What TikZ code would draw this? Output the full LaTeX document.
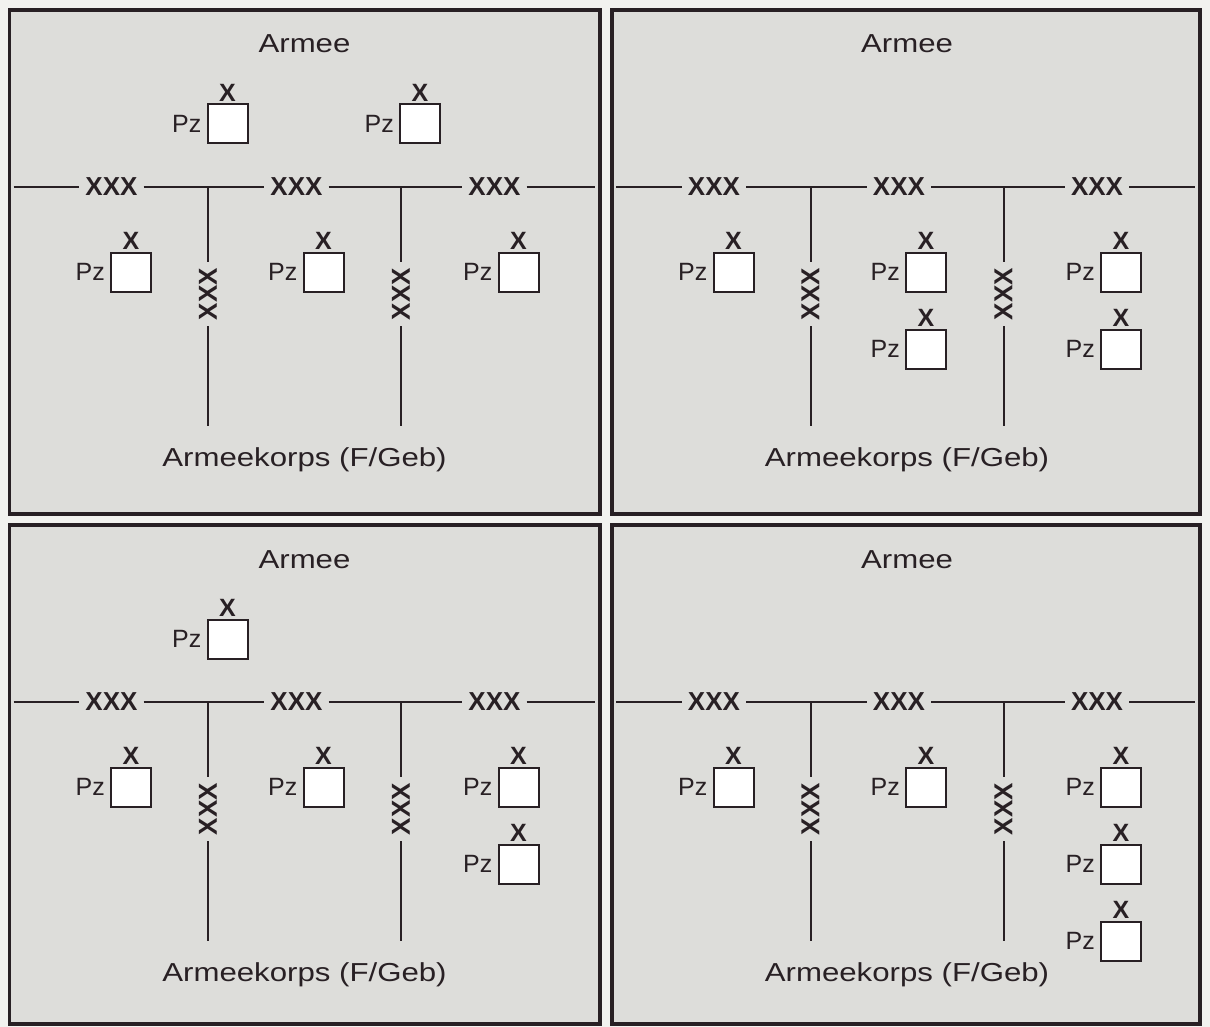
\documentclass[tikz,border=0pt]{standalone}
\usepackage{fontspec}
\setmainfont{Liberation Sans}
\newfontfamily\titlefont[FakeStretch=1.2]{Liberation Sans}
\definecolor{ink}{RGB}{40,32,36}
\definecolor{panelbg}{RGB}{221,221,218}
\definecolor{pagebg}{RGB}{242,242,239}
\tikzset{
  frame/.style={draw=ink, line width=3.8pt, fill=panelbg},
  conn/.style={draw=ink, line width=2pt},
  corps/.style={font=\fontsize{26}{30}\selectfont\bfseries, text=ink, inner sep=6pt},
  vcorps/.style={corps, rotate=90},
  pzbox/.style={draw=ink, fill=white, line width=2pt, minimum width=40pt, minimum height=39pt, inner sep=0pt},
  brig/.style={font=\fontsize{25}{28}\selectfont\bfseries, text=ink, inner sep=0pt},
  pzlbl/.style={font=\fontsize{25}{28}\selectfont, text=ink, inner sep=0pt},
  title/.style={font=\titlefont\fontsize{26}{30}\selectfont, text=ink, inner sep=0pt},
}
% panel body: prefix, width, height
\newcommand\panelbody[3]{%
  \path[frame] (0,0) rectangle (#2,#3);
  \node[title,anchor=base] (#1armee) at (295,43) {Armee};
  \node[title,anchor=base] (#1korps) at (295,456) {Armeekorps (F/Geb)};
  \coordinate (#1L) at (4,177);
  \coordinate (#1R) at (#2-5,177);
  \node[corps] (#1c1) at (102,177) {XXX};
  \node[corps] (#1c2) at (287,177) {XXX};
  \node[corps] (#1c3) at (485,177) {XXX};
  \coordinate (#1t1) at (198.5,177);
  \coordinate (#1t2) at (391.5,177);
  \node[vcorps] (#1v1) at (198.5,284) {XXX};
  \node[vcorps] (#1v2) at (391.5,284) {XXX};
  \coordinate (#1b1) at (198.5,416);
  \coordinate (#1b2) at (391.5,416);
  \draw[conn] (#1L) -- (#1c1);
  \draw[conn] (#1c1) -- (#1c2);
  \draw[conn] (#1c2) -- (#1c3);
  \draw[conn] (#1c3) -- (#1R);
  \draw[conn] (#1t1) -- (#1v1);
  \draw[conn] (#1v1) -- (#1b1);
  \draw[conn] (#1t2) -- (#1v2);
  \draw[conn] (#1v2) -- (#1b2);
}
% Pz brigade: name, x, y
\newcommand\pzunit[3]{%
  \node[pzbox] (#1) at (#2,#3) {};
  \node[brig, anchor=south] (#1x) at ([yshift=2pt]#1.north) {X};
  \node[pzlbl, anchor=east] (#1p) at ([xshift=-5pt]#1.west) {Pz};
}
\begin{document}
\begin{tikzpicture}[x=1pt,y=-1pt]
\useasboundingbox (0,0) rectangle (1210,1027);
\fill[pagebg] (0,0) rectangle (1210,1027);
% top left
\begin{scope}[shift={(9.5,10)}]
  \panelbody{a}{590.5}{504}
  \pzunit{a1}{218}{114}
  \pzunit{a2}{410.5}{114}
  \pzunit{a3}{121.5}{262}
  \pzunit{a4}{314}{262}
  \pzunit{a5}{509}{262}
\end{scope}
% top right
\begin{scope}[shift={(612,10)}]
  \panelbody{b}{588}{504}
  \pzunit{b1}{121.5}{262}
  \pzunit{b2}{314}{262}
  \pzunit{b3}{314}{339}
  \pzunit{b4}{509}{262}
  \pzunit{b5}{509}{339}
\end{scope}
% bottom left
\begin{scope}[shift={(9.5,525)}]
  \panelbody{c}{590.5}{499}
  \pzunit{c1}{218}{114}
  \pzunit{c2}{121.5}{262}
  \pzunit{c3}{314}{262}
  \pzunit{c4}{509}{262}
  \pzunit{c5}{509}{339}
\end{scope}
% bottom right
\begin{scope}[shift={(612,525)}]
  \panelbody{d}{588}{499}
  \pzunit{d1}{121.5}{262}
  \pzunit{d2}{314}{262}
  \pzunit{d3}{509}{262}
  \pzunit{d4}{509}{339}
  \pzunit{d5}{509}{416}
\end{scope}
\end{tikzpicture}
\end{document}
